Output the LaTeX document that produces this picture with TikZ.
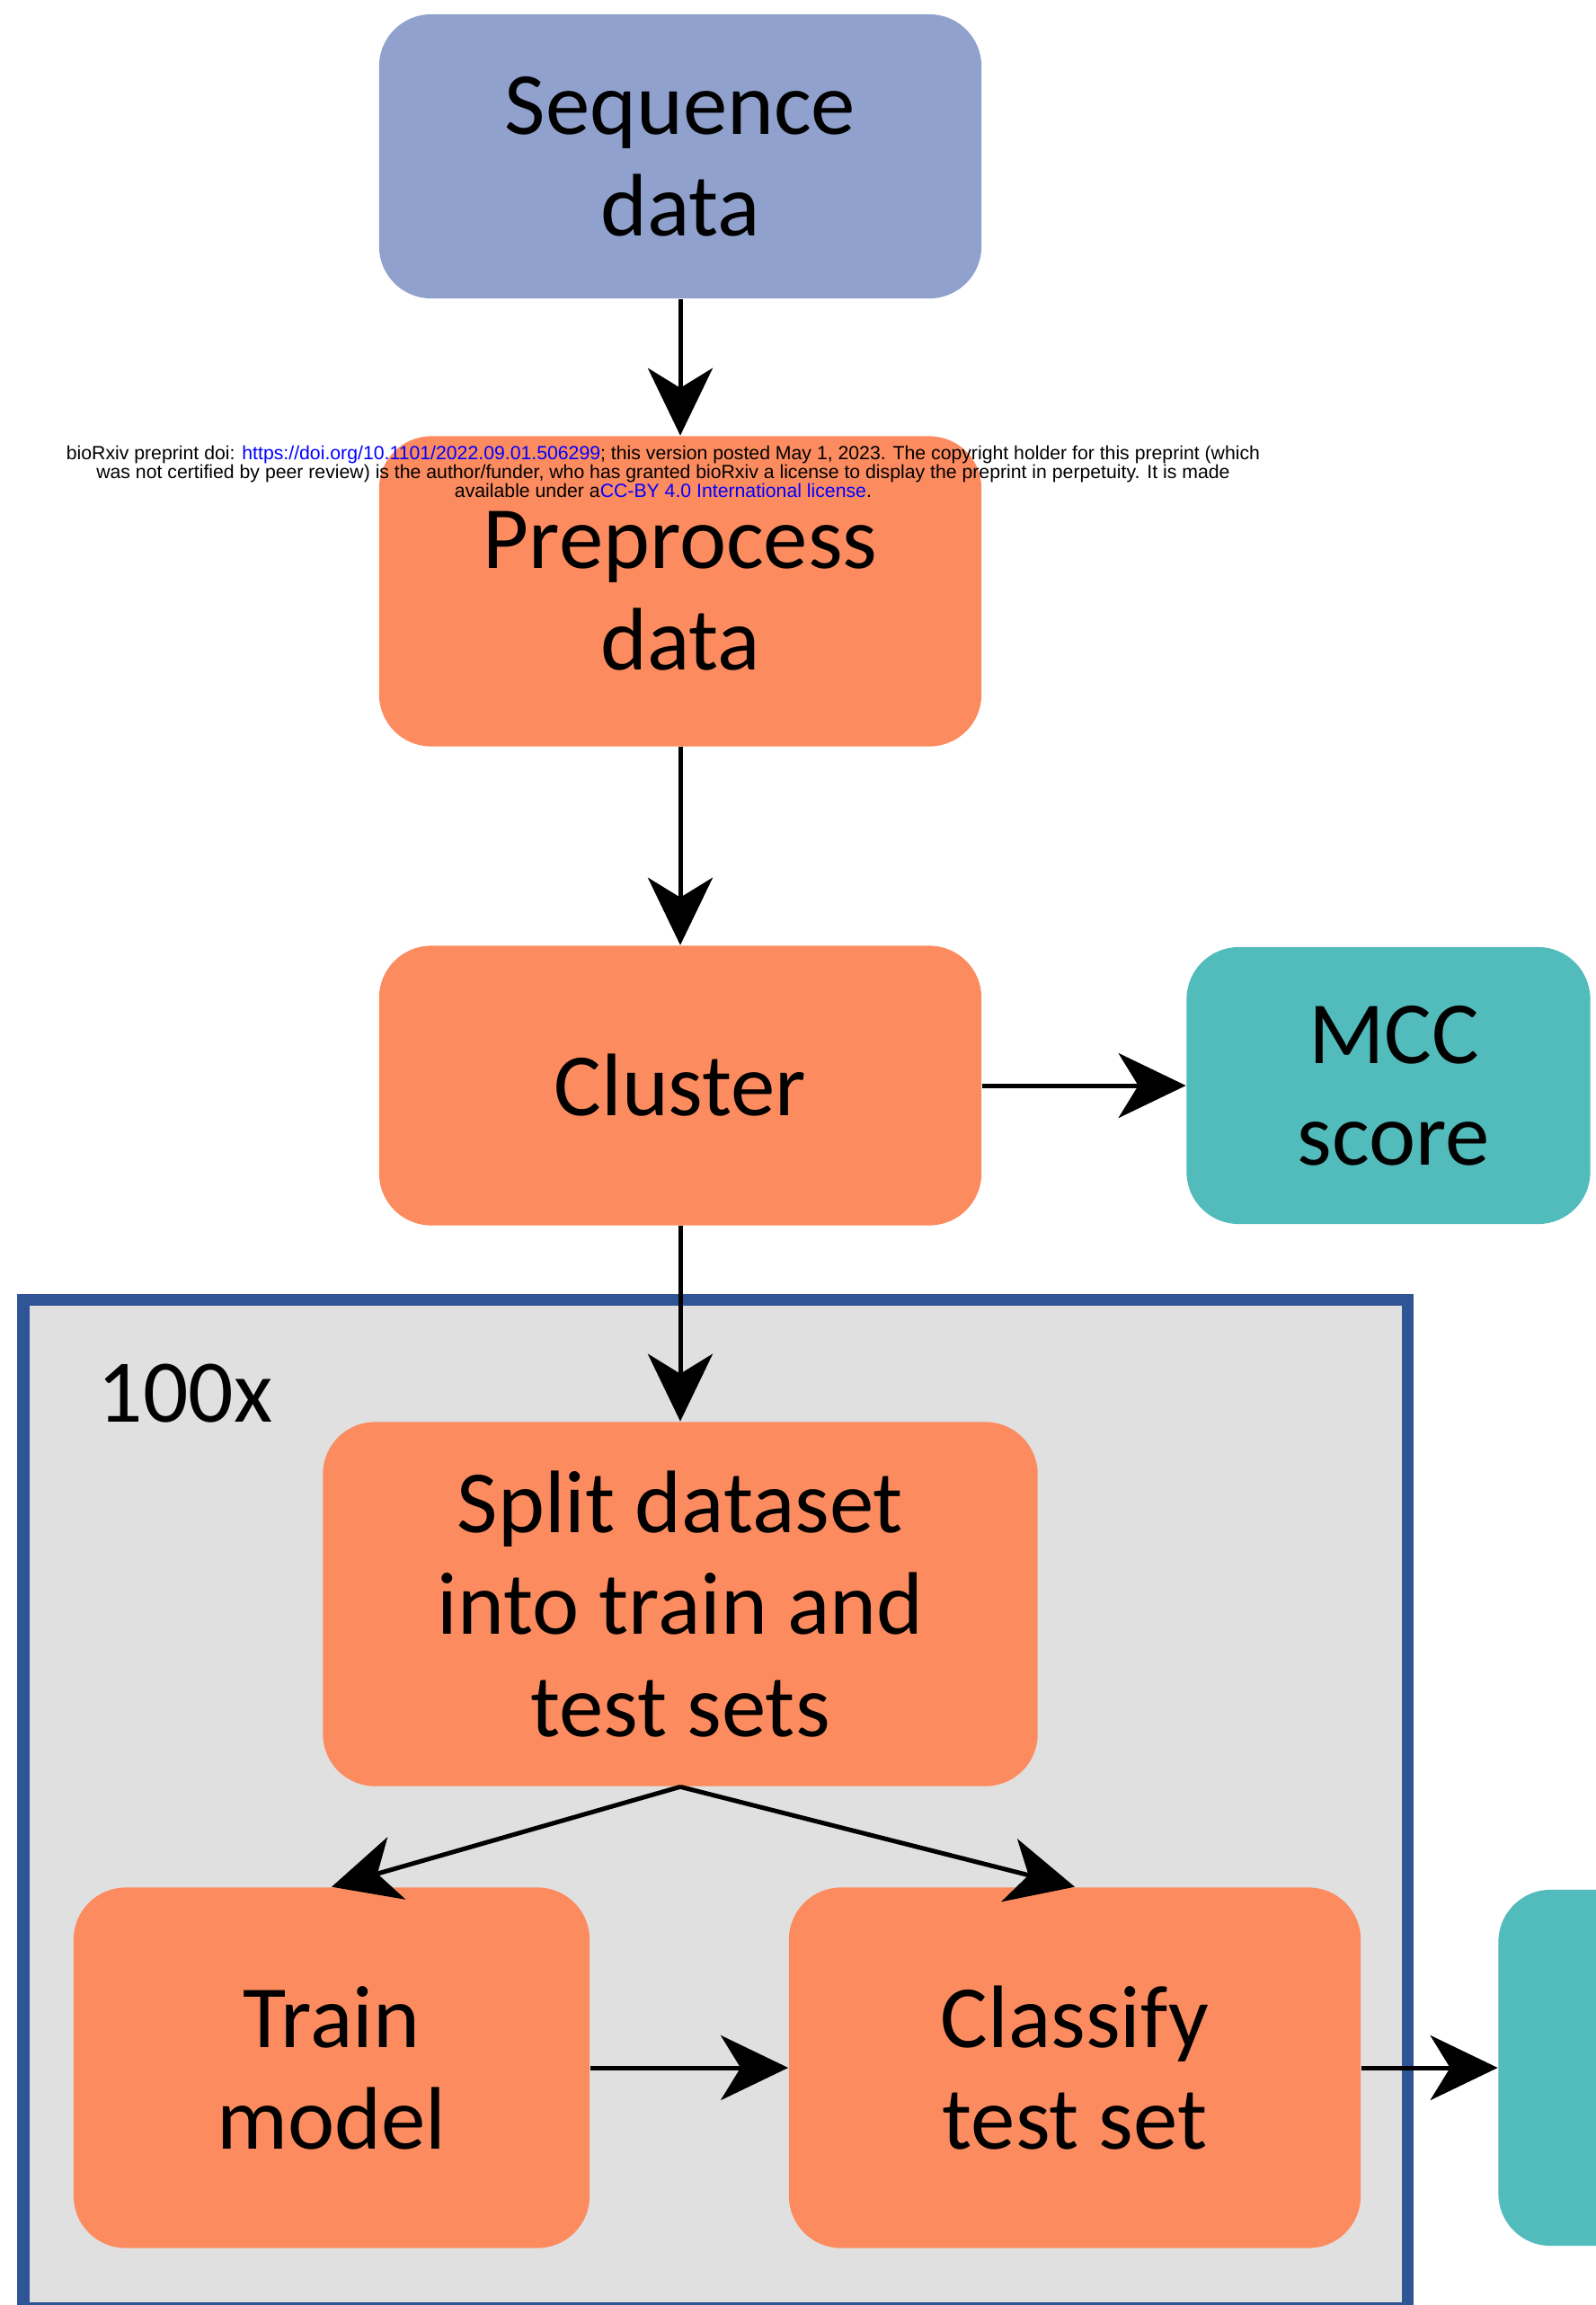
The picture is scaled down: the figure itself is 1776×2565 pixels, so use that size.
\documentclass[tikz,border=0pt]{standalone}
\usepackage{fontspec}
\setmainfont{Carlito}
\newfontfamily\hdrfont{Liberation Sans}
\usetikzlibrary{arrows.meta}
\definecolor{seqblue}{HTML}{8FA1CC}
\definecolor{procorange}{HTML}{FC8B5F}
\definecolor{scoreteal}{HTML}{52BBBB}
\definecolor{loopgray}{HTML}{E0E0E0}
\definecolor{loopblue}{HTML}{2F5597}
\definecolor{linkblue}{HTML}{0000FF}
\tikzset{
  box/.style={rectangle, rounded corners=0.58cm, inner sep=0pt, align=center,
    font=\fontsize{28.1pt}{32.2pt}\selectfont},
  flow/.style={line width=0.05cm, -{Stealth[length=0.75cm, width=0.72cm, inset=0.22cm]}},
}
\begin{document}
\begin{tikzpicture}[x=0.01cm, y=-0.01cm]
  \useasboundingbox (0,0) rectangle (1776,2565);
  \clip (0,0) rectangle (1776,2565);
  \fill[white] (0,0) rectangle (1776,2565);

  % repeated block
  \draw[fill=loopgray, draw=loopblue, line width=0.13cm] (26,1446) rectangle (1566,2568);
  \node[anchor=base west, inner sep=0pt, font=\fontsize{28.3pt}{32pt}\selectfont] (reps) at (108,1582) {100x};

  % pipeline steps
  \node[box, fill=seqblue, minimum width=6.70cm, minimum height=3.16cm] (seq) at (757,174) {Sequence\\data};
  \node[box, fill=procorange, minimum width=6.70cm, minimum height=3.45cm] (pre) at (757,658) {Preprocess\\data};
  \node[box, fill=procorange, minimum width=6.70cm, minimum height=3.11cm] (clu) at (757,1208) {Cluster};
  \node[box, fill=scoreteal, minimum width=4.49cm, minimum height=3.08cm] (mcc) at (1545,1208) {\hspace*{0.12cm}MCC\\\hspace*{0.12cm}score};
  \node[box, fill=procorange, minimum width=7.95cm, minimum height=4.05cm] (split) at (757,1785) {Split dataset\\into train and\\test sets};
  \node[box, fill=procorange, minimum width=5.74cm, minimum height=4.01cm] (train) at (369,2301) {Train\\model};
  \node[box, fill=procorange, minimum width=6.36cm, minimum height=4.01cm] (cls) at (1196,2301) {Classify\\test set};
  \node[box, fill=scoreteal, minimum width=4.49cm, minimum height=3.96cm] (out) at (1892,2301) {};

  % connectors
  \draw[flow] (seq.south) -- (pre.north);
  \draw[flow] (pre.south) -- (clu.north);
  \draw[flow] (clu.east) -- (mcc.west);
  \draw[flow] (clu.south) -- (split.north);
  \draw[flow] (split.south) -- (train.north);
  \draw[flow] (split.south) -- (cls.north);
  \draw[flow] (train.east) -- (cls.west);
  \draw[flow] (cls.east) -- (out.west);

  % preprint notice
  \node[inner sep=0pt, align=center, font=\hdrfont\fontsize{6.04pt}{6.05pt}\selectfont] (note) at (738,525)
    {bioRxiv preprint doi: \textcolor{linkblue}{https://doi.org/10.1101/2022.09.01.506299}; this version posted May 1, 2023. The copyright holder for this preprint (which\\
     was not certified by peer review) is the author/funder, who has granted bioRxiv a license to display the preprint in perpetuity. It is made\\
     available under a\textcolor{linkblue}{CC-BY 4.0 International license}.};
\end{tikzpicture}
\end{document}
